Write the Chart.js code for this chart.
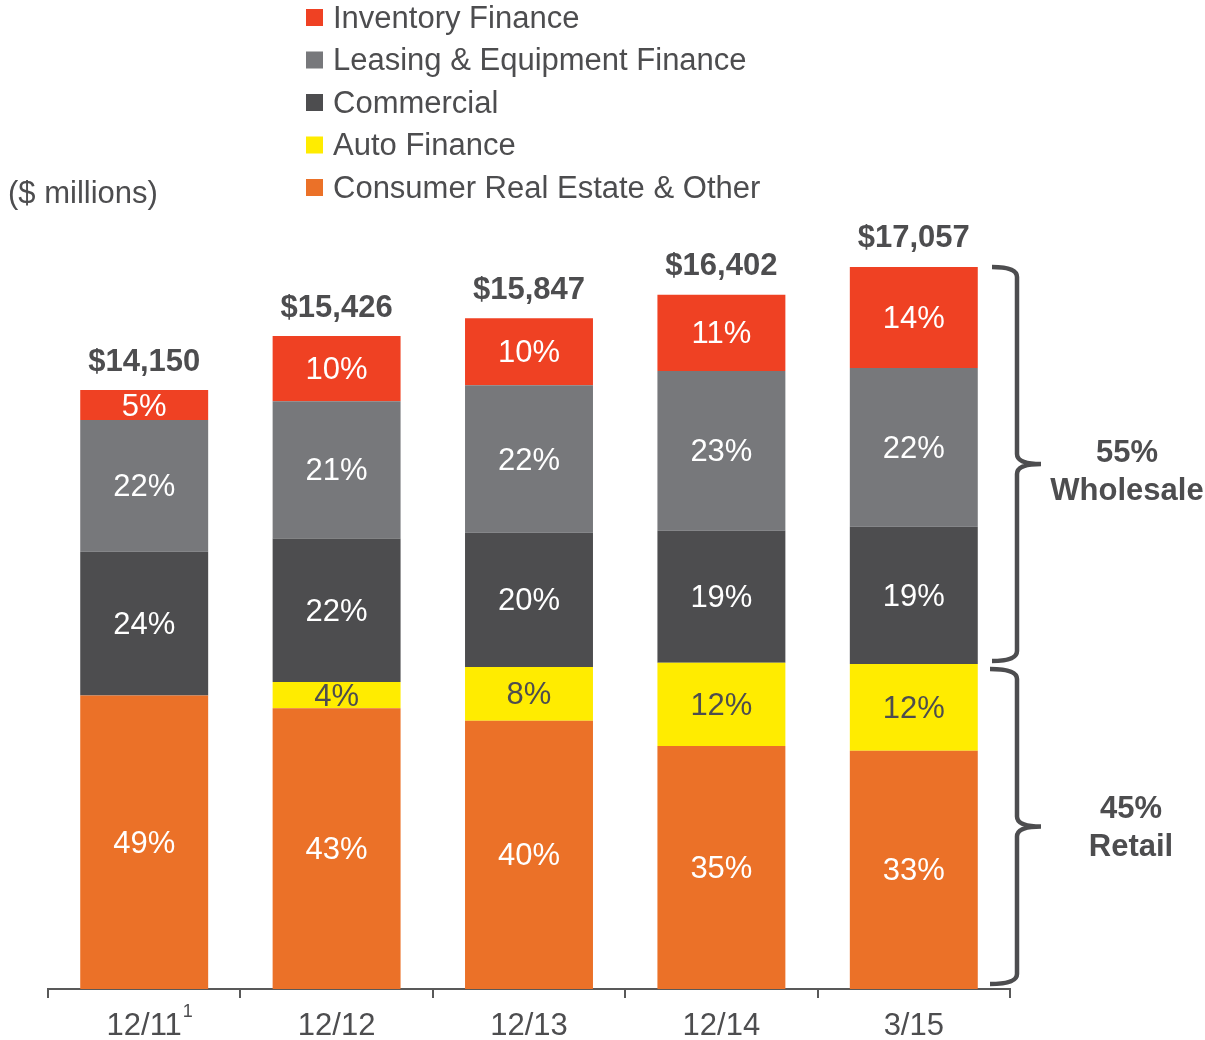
<!DOCTYPE html>
<html>
<head>
<meta charset="utf-8">
<script src="https://cdn.jsdelivr.net/npm/chart.js@4/dist/chart.umd.min.js"></script>
<style>
  html, body { margin: 0; padding: 0; background: #fff; }
  canvas { display: block; }
</style>
</head>
<body>
<canvas id="chart" width="1205" height="1040"></canvas>
<script>
  // loan portfolio by segment, totals in $ millions, segment shares in %
  const categories = ['12/11', '12/12', '12/13', '12/14', '3/15'];
  const footnotes = ['1', '', '', '', ''];
  const totals = [14150, 15426, 15847, 16402, 17057];
  const consumerPct = [49, 43, 40, 35, 33];
  const autoPct = [0, 4, 8, 12, 12];
  const commercialPct = [24, 22, 20, 19, 19];
  const leasingPct = [22, 21, 22, 23, 22];
  const inventoryPct = [5, 10, 10, 11, 14];
  const groupLabels = [['55%', 'Wholesale'], ['45%', 'Retail']];

  const INK = '#4D4D4F';
  const FONT = '"Liberation Sans", Arial, sans-serif';

  function toDollars(pct) {
    return pct.map(function (p, i) { return totals[i] * p / 100; });
  }

  function series(label, pct, color, textColor) {
    return {
      label: label,
      data: toDollars(pct),
      pct: pct,
      backgroundColor: color,
      textColor: textColor,
      borderWidth: 0,
    };
  }

  // bottom to top of the stack
  const datasets = [
    series('Consumer Real Estate & Other', consumerPct, '#EB7128', '#FFFFFF'),
    series('Auto Finance', autoPct, '#FFEC00', INK),
    series('Commercial', commercialPct, '#4D4D4F', '#FFFFFF'),
    series('Leasing & Equipment Finance', leasingPct, '#77787B', '#FFFFFF'),
    series('Inventory Finance', inventoryPct, '#EF4123', '#FFFFFF'),
  ];

  const segmentLabels = {
    id: 'segmentLabels',
    afterDatasetsDraw(chart) {
      const ctx = chart.ctx;
      ctx.save();
      ctx.textAlign = 'center';
      ctx.textBaseline = 'middle';
      ctx.font = '31px ' + FONT;
      chart.data.datasets.forEach(function (ds, di) {
        chart.getDatasetMeta(di).data.forEach(function (bar, i) {
          if (!ds.pct[i]) return;
          ctx.fillStyle = ds.textColor;
          ctx.fillText(ds.pct[i] + '%', bar.x, (bar.y + bar.base) / 2 + 2);
        });
      });
      // totals above each bar
      const top = chart.getDatasetMeta(chart.data.datasets.length - 1).data;
      ctx.font = 'bold 31px ' + FONT;
      ctx.fillStyle = INK;
      top.forEach(function (bar, i) {
        ctx.fillText('$' + totals[i].toLocaleString('en-US'), bar.x, bar.y - 28);
      });
      ctx.restore();
    },
  };

  function brace(ctx, x0, x1, x2, yTop, yBot) {
    const ym = (yTop + yBot) / 2;
    const r = 10;
    ctx.beginPath();
    ctx.moveTo(x0, yTop);
    ctx.quadraticCurveTo(x1, yTop, x1, yTop + r);
    ctx.lineTo(x1, ym - r);
    ctx.quadraticCurveTo(x1, ym, x2, ym);
    ctx.quadraticCurveTo(x1, ym, x1, ym + r);
    ctx.lineTo(x1, yBot - r);
    ctx.quadraticCurveTo(x1, yBot, x0, yBot);
    ctx.stroke();
    return ym;
  }

  const extras = {
    id: 'extras',
    afterDraw(chart) {
      const ctx = chart.ctx;
      const y = chart.scales.y;
      const x = chart.scales.x;
      const last = categories.length - 1;
      ctx.save();

      // legend, top of stack first
      ctx.font = '31px ' + FONT;
      ctx.textAlign = 'left';
      ctx.textBaseline = 'middle';
      chart.data.datasets.slice().reverse().forEach(function (ds, k) {
        const cy = 18 + k * 42.5;
        ctx.fillStyle = ds.backgroundColor;
        ctx.fillRect(306, cy - 9, 17, 17);
        ctx.fillStyle = INK;
        ctx.fillText(ds.label, 333, cy + 1);
      });
      ctx.fillText('($ millions)', 8, 194);

      // footnote marker on the first category
      const lx = x.getPixelForTick(0) + ctx.measureText(categories[0]).width / 2;
      ctx.font = '18px ' + FONT;
      footnotes.forEach(function (f, i) {
        if (!f) return;
        ctx.fillText(f, lx + 1, 1012);
      });

      // wholesale / retail braces on the last bar
      const split = totals[last] * (consumerPct[last] + autoPct[last]) / 100;
      const yTop = y.getPixelForValue(totals[last]);
      const ySplit = y.getPixelForValue(split);
      const yBase = y.getPixelForValue(0);
      ctx.strokeStyle = INK;
      ctx.lineWidth = 4.5;
      ctx.lineCap = 'butt';
      const m1 = brace(ctx, 992, 1017, 1041, yTop, ySplit - 3);
      const m2 = brace(ctx, 990, 1017, 1041, ySplit + 5, yBase - 5);

      ctx.font = 'bold 31px ' + FONT;
      ctx.textAlign = 'center';
      ctx.fillStyle = INK;
      ctx.fillText(groupLabels[0][0], 1127, m1 - 11);
      ctx.fillText(groupLabels[0][1], 1127, m1 + 27);
      ctx.fillText(groupLabels[1][0], 1131, m2 - 17);
      ctx.fillText(groupLabels[1][1], 1131, m2 + 21);
      ctx.restore();
    },
  };

  new Chart(document.getElementById('chart').getContext('2d'), {
    type: 'bar',
    data: { labels: categories, datasets: datasets },
    options: {
      responsive: false,
      animation: false,
      devicePixelRatio: 1,
      layout: { padding: { top: 227, left: 48, right: 195, bottom: 0 } },
      datasets: { bar: { categoryPercentage: 1, barPercentage: 0.665 } },
      plugins: {
        legend: { display: false },
        tooltip: { enabled: false },
        title: { display: false },
      },
      scales: {
        x: {
          stacked: true,
          afterFit(scale) { scale.height = 51; },
          grid: {
            display: true,
            drawOnChartArea: false,
            drawTicks: true,
            tickLength: 9,
            color: '#595959',
            lineWidth: 2,
          },
          border: { display: true, color: '#595959', width: 2 },
          ticks: { color: INK, padding: 10, font: { family: FONT, size: 31 } },
        },
        y: {
          stacked: true,
          display: false,
          min: 0,
          max: 18000,
        },
      },
    },
    plugins: [segmentLabels, extras],
  });
</script>
</body>
</html>
